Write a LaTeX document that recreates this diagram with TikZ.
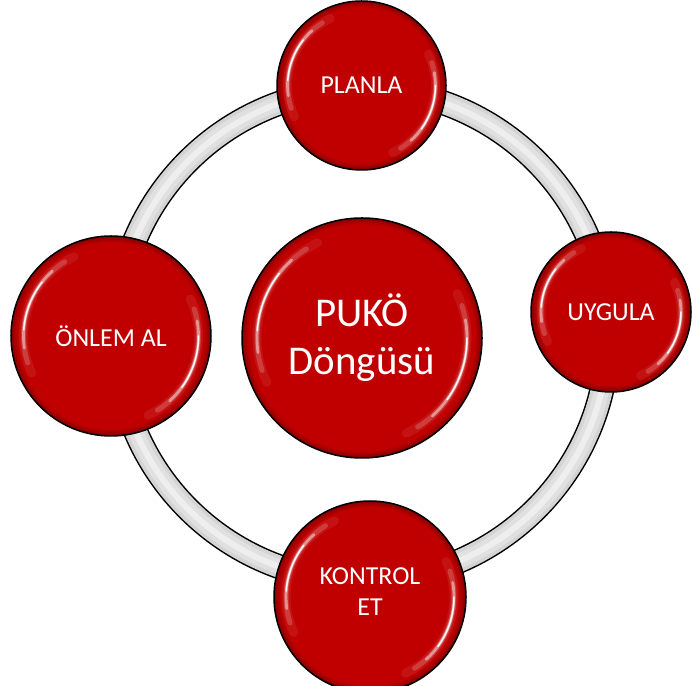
\documentclass[tikz,border=0pt]{standalone}
\usepackage{fontspec}
\setmainfont{Carlito}
\usetikzlibrary{calc}
\definecolor{cred}{RGB}{192,0,0}
\definecolor{ringA}{RGB}{212,212,212}
\definecolor{ringB}{RGB}{224,224,224}
\definecolor{ringC}{RGB}{238,238,238}
\tikzset{
  hl/.style={white, line cap=round},
  bubble/.style={circle, draw=black, line width=1.5bp, fill=cred, inner sep=0pt,
    minimum size={2*#1*1bp}, text=white, align=center,
    path picture={
      \coordinate (pc) at (path picture bounding box.center);
      \foreach \w in {12,8,5,3}{
        \draw[black, opacity=.08, line width=\w bp] (pc) circle[radius=#1];
      }
      \foreach \a/\b/\w/\o in {115/205/9/.07, 122/198/5/.18, 132/188/2.8/.45, 142/176/1.5/.95,
                               -65/25/9/.07, -58/18/5/.18, -48/10/2.8/.45, -36/0/1.5/.95}{
        \draw[hl, opacity=\o, line width=\w bp] ($(pc)+(\a:{0.875*#1})$) arc[start angle=\a, end angle=\b, radius={0.875*#1}];
      }
    }},
  smalltext/.style={font=\fontsize{26}{31}\selectfont},
  bigtext/.style={font=\fontsize{41}{48}\selectfont}
}
\begin{document}
\begin{tikzpicture}[x=1bp, y=1bp]
  \useasboundingbox (0,0) rectangle (692,686);
  \coordinate (ringc) at (362,351);
  % ring
  \draw[black, line width=25bp] (ringc) circle[radius=246];
  \draw[ringA, line width=22bp] (ringc) circle[radius=246];
  \draw[ringB, line width=15bp] (ringc) circle[radius=246];
  \draw[ringC, line width=6bp] (ringc) circle[radius=246];
  % bubbles
  \node[bubble=120, bigtext] (center) at (362,348) {PUKÖ\\Döngüsü};
  \node[bubble=84.5, smalltext] (planla) at (361.5,600.5) {PLANLA};
  \node[bubble=80, smalltext] (uygula) at (611,374) {UYGULA};
  \node[bubble=96, smalltext, text depth=11bp] (kontrol) at (370,89) {KONTROL\\ET};
  \node[bubble=100, smalltext] (onlem) at (111,350) {ÖNLEM AL};
\end{tikzpicture}
\end{document}
